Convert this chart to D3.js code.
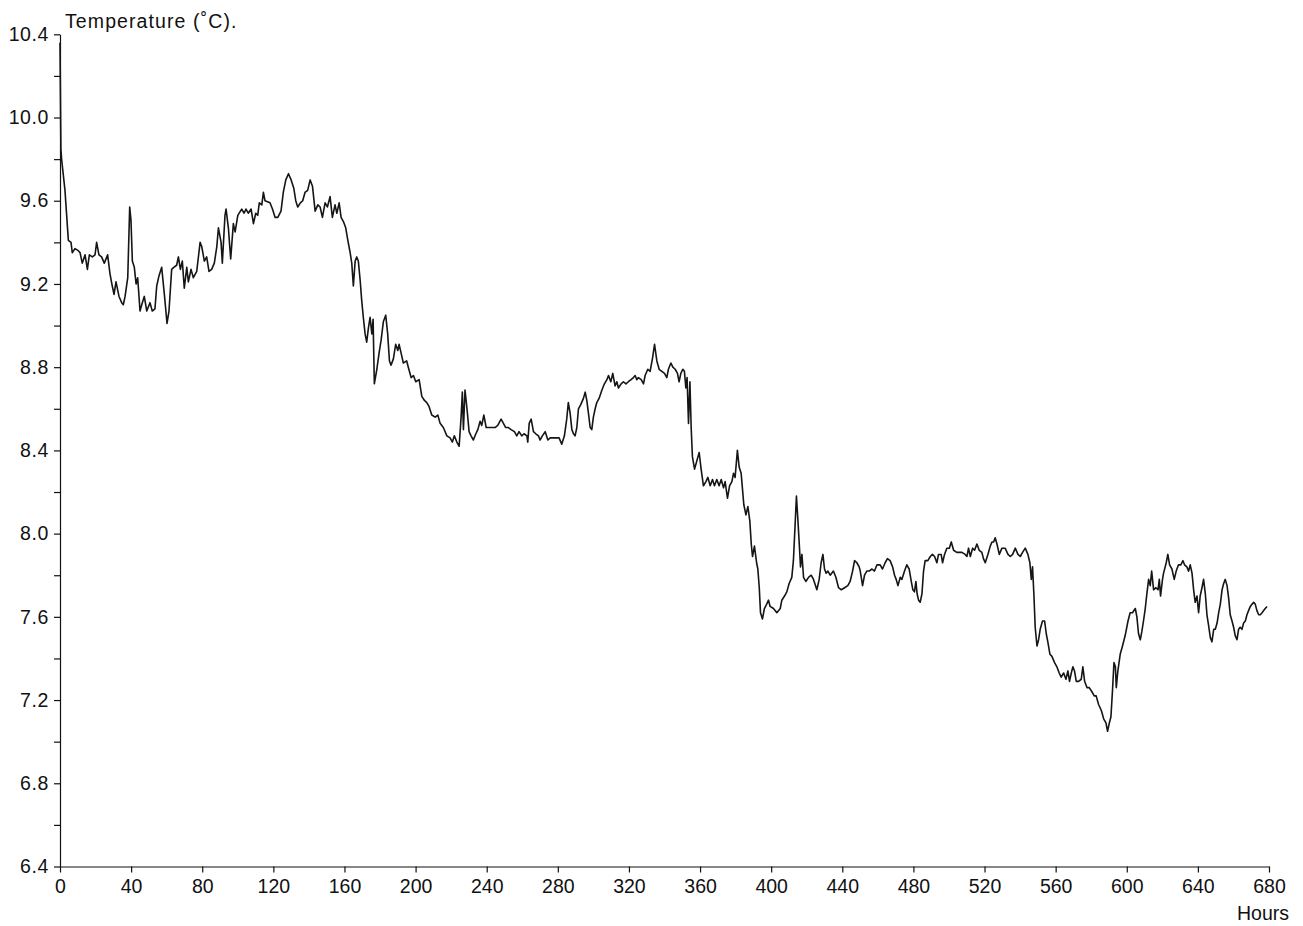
<!DOCTYPE html>
<html>
<head>
<meta charset="utf-8">
<script src="https://cdn.jsdelivr.net/npm/d3@7"></script>
<style>
  body { margin: 0; background: #fff; }
  text { font-family: "Liberation Sans", Arial, Helvetica, sans-serif; }
</style>
</head>
<body>
<div id="chart"></div>
<script>
// elapsed time (hours) and water temperature (deg C)
const hours = [
  0, 0.5, 0.9, 2.8, 4.3, 4.7, 6.2, 6.9, 8.4, 10.3, 11.3, 12.5, 14.1, 15.4, 16.5, 18.2, 19.7, 20.6, 21.9, 23.4,
  24.9, 26.8, 28.1, 29.4, 30.4, 31.5, 33.2, 34.7, 35.6, 36.6, 38.1, 39.2, 39.9, 40.7, 41.8, 42.8, 43.7, 45.0, 46.3, 47.4,
  48.8, 50.6, 51.9, 53.4, 54.4, 55.7, 57.2, 58.7, 60.2, 61.3, 62.8, 64.0, 65.6, 66.6, 67.7, 68.8, 69.9, 71.3, 72.2, 73.7,
  75.0, 76.9, 78.8, 79.7, 81.2, 82.5, 83.8, 85.3, 86.8, 88.2, 89.1, 90.6, 91.3, 92.8, 93.4, 94.7, 96.0, 97.5, 98.5, 100.0,
  102.2, 103.5, 104.6, 105.9, 107.5, 108.8, 110.1, 111.2, 112.1, 113.5, 114.4, 115.3, 118.1, 119.5, 121.0, 122.5, 124.3, 125.6, 127.0, 128.5,
  130.0, 131.5, 132.6, 133.7, 135.2, 136.5, 137.8, 139.3, 140.7, 142.0, 143.5, 145.0, 146.3, 147.6, 149.1, 150.4, 151.9, 153.2, 154.7, 155.7,
  157.0, 158.1, 159.4, 160.7, 161.9, 163.2, 164.1, 165.0, 166.0, 166.9, 167.8, 168.8, 169.7, 170.6, 171.6, 172.5, 173.5, 174.4, 175.4, 176.1,
  176.8, 178.2, 179.5, 180.6, 181.9, 183.2, 184.3, 185.3, 186.2, 187.5, 188.8, 190.0, 190.7, 191.8, 193.1, 195.0, 195.9, 197.5, 198.8, 200.1,
  202.0, 203.5, 205.0, 206.3, 207.6, 209.1, 211.0, 212.5, 213.8, 215.6, 217.6, 219.4, 220.7, 221.8, 223.2, 224.5, 225.6, 226.3, 226.9, 227.8,
  228.8, 230.1, 231.2, 232.5, 233.9, 235.0, 236.3, 237.2, 238.4, 239.7, 241.0, 242.9, 244.7, 246.2, 248.1, 249.4, 250.7, 252.2, 253.7, 255.6,
  256.9, 258.2, 259.7, 261.0, 262.6, 263.1, 263.9, 265.0, 266.3, 267.6, 269.1, 270.0, 271.3, 272.9, 274.4, 275.7, 277.5, 279.4, 280.7, 282.2,
  283.7, 285.0, 285.9, 286.9, 287.9, 288.8, 289.7, 290.7, 291.6, 292.9, 294.4, 295.4, 296.3, 297.2, 298.2, 299.1, 300.0, 301.0, 301.9, 303.2,
  304.8, 306.2, 307.6, 308.5, 309.8, 310.9, 312.2, 313.2, 314.1, 315.6, 316.9, 318.3, 319.7, 321.2, 322.5, 323.5, 324.4, 325.3, 326.9, 328.2,
  329.1, 330.6, 331.9, 333.2, 334.4, 335.7, 337.0, 338.5, 340.0, 341.3, 342.2, 343.6, 344.7, 346.0, 347.3, 348.2, 349.2, 350.3, 351.2, 352.0,
  352.7, 353.5, 354.3, 355.0, 355.7, 356.9, 358.2, 359.5, 360.6, 361.9, 363.3, 364.4, 365.7, 367.0, 368.1, 369.4, 370.7, 371.9, 373.2, 374.1,
  375.4, 376.6, 377.9, 378.8, 379.7, 381.0, 382.0, 383.1, 383.9, 384.6, 385.8, 386.9, 388.0, 388.8, 389.5, 390.6, 391.8, 392.5, 393.3, 394.0,
  395.1, 396.2, 397.4, 398.5, 399.4, 401.3, 403.2, 405.1, 406.0, 407.5, 408.8, 410.1, 411.6, 412.5, 413.5, 414.2, 415.0, 415.8, 416.5, 417.3,
  418.2, 419.5, 421.0, 422.5, 423.8, 425.7, 427.0, 428.1, 429.1, 430.0, 430.9, 431.9, 433.2, 435.0, 436.4, 437.9, 439.4, 441.3, 443.1, 444.4,
  445.8, 446.9, 448.2, 449.5, 450.1, 451.4, 452.5, 453.8, 455.1, 456.7, 458.1, 459.5, 461.3, 462.6, 464.1, 465.4, 466.9, 468.3, 469.4, 470.3,
  471.3, 472.6, 473.5, 475.0, 476.3, 477.6, 478.8, 479.7, 480.6, 481.4, 482.1, 482.9, 483.8, 484.8, 485.7, 486.6, 488.1, 489.5, 490.7, 491.9,
  493.2, 494.1, 495.6, 496.4, 497.5, 498.8, 500.2, 501.3, 502.6, 504.4, 507.3, 509.1, 510.1, 511.0, 512.0, 513.3, 514.4, 515.7, 517.0, 518.5,
  519.4, 520.4, 521.9, 523.2, 524.2, 525.1, 526.0, 527.0, 528.3, 529.8, 531.6, 533.2, 534.5, 535.8, 537.3, 538.8, 540.1, 541.4, 542.9, 544.4,
  545.5, 546.3, 547.0, 547.8, 548.5, 549.5, 550.4, 551.3, 552.6, 553.8, 554.7, 555.6, 556.8, 557.9, 559.4, 560.7, 562.0, 563.1, 564.5, 565.8,
  566.9, 567.8, 568.8, 569.7, 570.6, 571.6, 572.9, 574.4, 575.3, 576.3, 577.6, 578.9, 580.4, 581.7, 582.8, 584.1, 585.7, 587.0, 588.3, 589.2,
  590.2, 591.1, 592.0, 592.8, 593.6, 594.1, 595.0, 596.3, 597.6, 599.1, 600.7, 601.9, 603.2, 604.8, 605.7, 606.6, 607.6, 608.5, 609.4, 610.4,
  611.3, 612.3, 613.2, 614.0, 615.1, 616.4, 617.6, 618.3, 619.0, 620.1, 620.7, 622.2, 623.1, 624.1, 625.4, 626.7, 627.8, 629.1, 630.4, 631.6,
  632.5, 633.8, 634.8, 635.7, 636.7, 637.6, 638.5, 639.5, 640.4, 641.3, 642.3, 643.2, 644.2, 645.1, 646.0, 647.0, 647.9, 648.9, 649.8, 650.8,
  651.7, 652.6, 653.6, 654.5, 655.4, 656.4, 657.3, 658.2, 659.2, 660.1, 661.0, 662.0, 662.9, 663.8, 664.8, 665.7, 666.7, 667.6, 668.5, 669.5,
  670.4, 671.4, 672.3, 673.2, 674.2, 675.1, 676.1, 677.0, 677.9, 678.9
];
const temps = [
  10.36, 9.85, 9.80, 9.65, 9.46, 9.41, 9.40, 9.35, 9.37, 9.36, 9.35, 9.30, 9.34, 9.27, 9.34, 9.33, 9.34, 9.40, 9.34, 9.33,
  9.30, 9.34, 9.25, 9.19, 9.15, 9.21, 9.14, 9.11, 9.10, 9.14, 9.23, 9.57, 9.51, 9.31, 9.28, 9.20, 9.23, 9.07, 9.11, 9.14,
  9.07, 9.11, 9.07, 9.08, 9.19, 9.24, 9.28, 9.15, 9.01, 9.07, 9.27, 9.28, 9.29, 9.33, 9.27, 9.31, 9.18, 9.28, 9.21, 9.27,
  9.23, 9.26, 9.40, 9.38, 9.31, 9.33, 9.26, 9.27, 9.30, 9.38, 9.47, 9.40, 9.30, 9.53, 9.56, 9.47, 9.32, 9.49, 9.45, 9.53,
  9.56, 9.54, 9.56, 9.54, 9.56, 9.49, 9.54, 9.53, 9.59, 9.58, 9.64, 9.60, 9.59, 9.56, 9.52, 9.52, 9.55, 9.64, 9.70, 9.73,
  9.70, 9.66, 9.60, 9.57, 9.59, 9.60, 9.64, 9.65, 9.70, 9.67, 9.55, 9.58, 9.57, 9.52, 9.59, 9.57, 9.62, 9.52, 9.58, 9.54,
  9.59, 9.52, 9.50, 9.47, 9.41, 9.35, 9.30, 9.19, 9.31, 9.33, 9.31, 9.22, 9.12, 9.04, 8.96, 8.92, 8.99, 9.04, 8.96, 9.03,
  8.72, 8.79, 8.87, 8.93, 9.02, 9.05, 8.96, 8.83, 8.81, 8.84, 8.91, 8.88, 8.91, 8.87, 8.82, 8.83, 8.80, 8.75, 8.76, 8.73,
  8.74, 8.66, 8.64, 8.63, 8.61, 8.57, 8.56, 8.57, 8.53, 8.51, 8.47, 8.46, 8.44, 8.47, 8.44, 8.42, 8.56, 8.68, 8.50, 8.69,
  8.61, 8.49, 8.47, 8.45, 8.48, 8.50, 8.54, 8.52, 8.57, 8.51, 8.51, 8.51, 8.51, 8.52, 8.55, 8.53, 8.51, 8.51, 8.50, 8.49,
  8.47, 8.49, 8.47, 8.48, 8.47, 8.44, 8.53, 8.55, 8.49, 8.48, 8.47, 8.45, 8.47, 8.49, 8.45, 8.46, 8.46, 8.46, 8.46, 8.43,
  8.47, 8.55, 8.63, 8.58, 8.50, 8.48, 8.47, 8.51, 8.60, 8.62, 8.65, 8.68, 8.64, 8.58, 8.51, 8.50, 8.56, 8.60, 8.63, 8.65,
  8.69, 8.72, 8.74, 8.76, 8.73, 8.77, 8.71, 8.73, 8.70, 8.72, 8.73, 8.72, 8.73, 8.74, 8.75, 8.76, 8.74, 8.75, 8.74, 8.72,
  8.76, 8.79, 8.78, 8.84, 8.91, 8.83, 8.79, 8.78, 8.77, 8.75, 8.79, 8.82, 8.80, 8.79, 8.77, 8.73, 8.77, 8.79, 8.78, 8.70,
  8.75, 8.53, 8.73, 8.51, 8.37, 8.31, 8.35, 8.39, 8.31, 8.23, 8.25, 8.27, 8.23, 8.26, 8.23, 8.26, 8.23, 8.26, 8.22, 8.25,
  8.17, 8.23, 8.25, 8.29, 8.27, 8.40, 8.32, 8.29, 8.21, 8.14, 8.09, 8.13, 8.06, 7.95, 7.89, 7.94, 7.86, 7.83, 7.74, 7.62,
  7.59, 7.64, 7.66, 7.68, 7.65, 7.64, 7.62, 7.64, 7.68, 7.70, 7.72, 7.76, 7.79, 7.87, 8.05, 8.18, 8.07, 7.95, 7.84, 7.90,
  7.79, 7.77, 7.79, 7.80, 7.78, 7.73, 7.78, 7.86, 7.90, 7.83, 7.81, 7.82, 7.80, 7.82, 7.79, 7.74, 7.73, 7.74, 7.75, 7.77,
  7.82, 7.87, 7.86, 7.84, 7.82, 7.75, 7.80, 7.82, 7.82, 7.83, 7.82, 7.85, 7.85, 7.83, 7.86, 7.88, 7.87, 7.84, 7.80, 7.78,
  7.75, 7.79, 7.78, 7.82, 7.85, 7.83, 7.77, 7.73, 7.72, 7.77, 7.71, 7.68, 7.67, 7.71, 7.82, 7.87, 7.87, 7.89, 7.90, 7.89,
  7.86, 7.90, 7.90, 7.86, 7.90, 7.93, 7.93, 7.96, 7.92, 7.91, 7.91, 7.90, 7.89, 7.93, 7.89, 7.93, 7.92, 7.95, 7.92, 7.91,
  7.88, 7.86, 7.90, 7.94, 7.96, 7.96, 7.98, 7.95, 7.90, 7.93, 7.93, 7.90, 7.89, 7.90, 7.93, 7.90, 7.89, 7.91, 7.93, 7.90,
  7.86, 7.78, 7.84, 7.70, 7.55, 7.46, 7.49, 7.54, 7.58, 7.58, 7.52, 7.48, 7.42, 7.41, 7.38, 7.36, 7.33, 7.31, 7.33, 7.30,
  7.34, 7.29, 7.33, 7.36, 7.34, 7.29, 7.29, 7.30, 7.36, 7.29, 7.26, 7.26, 7.24, 7.22, 7.22, 7.18, 7.15, 7.11, 7.09, 7.05,
  7.09, 7.12, 7.25, 7.38, 7.36, 7.26, 7.34, 7.42, 7.46, 7.51, 7.58, 7.62, 7.62, 7.64, 7.60, 7.52, 7.49, 7.53, 7.58, 7.64,
  7.71, 7.78, 7.75, 7.82, 7.73, 7.74, 7.73, 7.78, 7.70, 7.78, 7.81, 7.86, 7.90, 7.85, 7.83, 7.78, 7.82, 7.85, 7.85, 7.87,
  7.85, 7.84, 7.82, 7.85, 7.81, 7.73, 7.67, 7.70, 7.62, 7.70, 7.74, 7.78, 7.71, 7.61, 7.56, 7.50, 7.48, 7.54, 7.54, 7.57,
  7.62, 7.66, 7.73, 7.76, 7.78, 7.75, 7.69, 7.61, 7.58, 7.55, 7.51, 7.49, 7.54, 7.55, 7.54, 7.57, 7.58, 7.61, 7.63, 7.65,
  7.66, 7.67, 7.66, 7.63, 7.61, 7.61, 7.62, 7.63, 7.64, 7.65
];

// axis ticks: labelled every 0.4 C, small marks every 0.2 C, hours every 40
const yTicks = [6.4, 6.6, 6.8, 7.0, 7.2, 7.4, 7.6, 7.8, 8.0, 8.2, 8.4, 8.6, 8.8, 9.0, 9.2, 9.4, 9.6, 9.8, 10.0, 10.2, 10.4];
const yLabelled = [6.4, 6.8, 7.2, 7.6, 8.0, 8.4, 8.8, 9.2, 9.6, 10.0, 10.4];
const xTicks = [0, 40, 80, 120, 160, 200, 240, 280, 320, 360, 400, 440, 480, 520, 560, 600, 640, 680];

const width = 1303;
const height = 926;
const margin = { top: 34.3, right: 34, bottom: 59.5, left: 60 };

const xScale = d3.scaleLinear().domain([0, 680]).range([margin.left, width - margin.right]);
const yScale = d3.scaleLinear().domain([6.4, 10.4]).range([height - margin.bottom, margin.top]);

const svg = d3.select("#chart")
  .append("svg")
  .attr("width", width)
  .attr("height", height)
  .attr("viewBox", [0, 0, width, height]);

const fontSize = "19.5px";

// y axis
const yAxis = d3.axisLeft(yScale)
  .tickValues(yTicks)
  .tickFormat(d => yLabelled.some(v => Math.abs(v - d) < 1e-6) ? d3.format(".1f")(d) : "")
  .tickSize(6)
  .tickSizeOuter(0)
  .tickPadding(5);

svg.append("g")
  .attr("transform", `translate(${margin.left},0)`)
  .call(yAxis)
  .call(g => g.selectAll("text").style("font-size", fontSize).style("letter-spacing", "0.6px").attr("fill", "#111"))
  .call(g => g.selectAll("line, path").attr("stroke", "#111").attr("stroke-width", 1.2));

// x axis
const xAxis = d3.axisBottom(xScale)
  .tickValues(xTicks)
  .tickSize(6)
  .tickSizeOuter(0)
  .tickPadding(7);

svg.append("g")
  .attr("transform", `translate(0,${height - margin.bottom})`)
  .call(xAxis)
  .call(g => g.selectAll("text").style("font-size", fontSize).attr("fill", "#111"))
  .call(g => g.selectAll("line, path").attr("stroke", "#111").attr("stroke-width", 1.2));

// axis titles
svg.append("text")
  .attr("x", 65)
  .attr("y", 28)
  .style("font-size", fontSize)
  .style("letter-spacing", "1.1px")
  .attr("fill", "#111")
  .text("Temperature (˚C).");

svg.append("text")
  .attr("x", 1289)
  .attr("y", 920)
  .attr("text-anchor", "end")
  .style("font-size", fontSize)
  .attr("fill", "#111")
  .text("Hours");

// temperature trace
const I = d3.range(hours.length);
const line = d3.line()
  .x(i => xScale(hours[i]))
  .y(i => yScale(temps[i]));

svg.append("path")
  .attr("d", line(I))
  .attr("fill", "none")
  .attr("stroke", "#151515")
  .attr("stroke-width", 1.6)
  .attr("stroke-linejoin", "round");
</script>
</body>
</html>
